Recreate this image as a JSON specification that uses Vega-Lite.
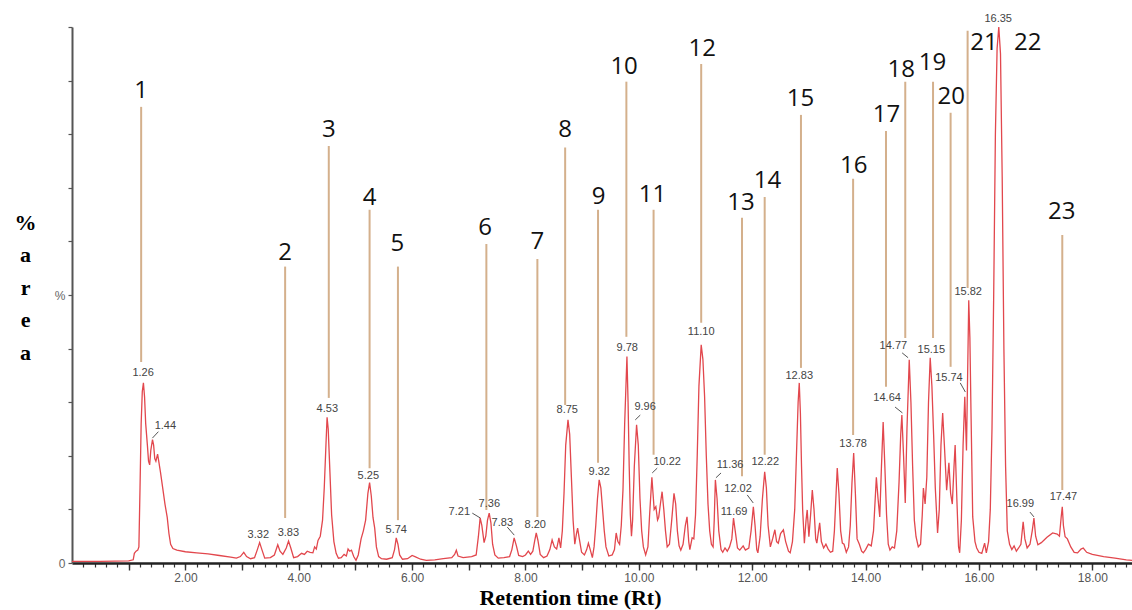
{
  "$schema": "https://vega.github.io/schema/vega-lite/v6.json",
  "width": 1060,
  "height": 536,
  "autosize": {"type": "none"},
  "padding": {"left": 72, "top": 27, "right": 0, "bottom": 47},
  "background": "white",
  "config": {"view": {"stroke": null}},
  "resolve": {"axis": {"x": "independent"}},
  "datasets": {
    "trace": [
      {"t":0.00,"v":0.3},{"t":0.5,"v":0.3},{"t":1.00,"v":0.4},{"t":1.08,"v":0.6},{"t":1.10,"v":1.8},{"t":1.13,"v":2.2},{"t":1.16,"v":2.4},{"t":1.18,"v":3.0},{"t":1.20,"v":14},{"t":1.22,"v":26},{"t":1.24,"v":32},{"t":1.26,"v":33.6},{"t":1.28,"v":31},{"t":1.30,"v":26},{"t":1.33,"v":22},{"t":1.35,"v":19},{"t":1.37,"v":18.3},{"t":1.39,"v":21},{"t":1.42,"v":23},{"t":1.44,"v":22},{"t":1.46,"v":19.5},{"t":1.48,"v":19},{"t":1.51,"v":20.3},{"t":1.53,"v":19},{"t":1.56,"v":17},{"t":1.60,"v":14},{"t":1.64,"v":11},{"t":1.68,"v":8.5},{"t":1.71,"v":5.5},{"t":1.74,"v":3.5},{"t":1.78,"v":2.7},{"t":1.85,"v":2.4},{"t":2.0,"v":2.1},{"t":2.2,"v":1.9},{"t":2.4,"v":1.7},{"t":2.6,"v":1.4},{"t":2.8,"v":1.1},{"t":2.9,"v":0.9},{"t":2.97,"v":1.2},{"t":3.03,"v":2.0},{"t":3.08,"v":1.2},{"t":3.15,"v":0.8},{"t":3.22,"v":1.0},{"t":3.27,"v":2.5},{"t":3.31,"v":3.8},{"t":3.35,"v":2.5},{"t":3.40,"v":0.9},{"t":3.50,"v":1.0},{"t":3.57,"v":1.5},{"t":3.63,"v":3.4},{"t":3.67,"v":2.2},{"t":3.72,"v":1.6},{"t":3.78,"v":2.8},{"t":3.82,"v":4.1},{"t":3.86,"v":2.8},{"t":3.91,"v":1.0},{"t":3.98,"v":1.2},{"t":4.05,"v":1.8},{"t":4.10,"v":1.6},{"t":4.15,"v":2.2},{"t":4.20,"v":2.0},{"t":4.25,"v":1.9},{"t":4.28,"v":3.0},{"t":4.31,"v":2.6},{"t":4.34,"v":4.2},{"t":4.38,"v":5.0},{"t":4.42,"v":8},{"t":4.45,"v":14},{"t":4.48,"v":22},{"t":4.50,"v":27.2},{"t":4.52,"v":25},{"t":4.55,"v":17},{"t":4.58,"v":9},{"t":4.62,"v":4},{"t":4.66,"v":1.8},{"t":4.70,"v":0.9},{"t":4.75,"v":1.0},{"t":4.80,"v":1.6},{"t":4.84,"v":1.3},{"t":4.87,"v":2.6},{"t":4.90,"v":2.2},{"t":4.93,"v":2.4},{"t":4.97,"v":1.2},{"t":5.01,"v":0.5},{"t":5.05,"v":1.5},{"t":5.10,"v":4.5},{"t":5.14,"v":6},{"t":5.18,"v":8},{"t":5.22,"v":13},{"t":5.25,"v":15},{"t":5.28,"v":12.5},{"t":5.31,"v":8.5},{"t":5.34,"v":6.5},{"t":5.37,"v":3},{"t":5.41,"v":1.2},{"t":5.46,"v":0.8},{"t":5.55,"v":0.7},{"t":5.65,"v":1.0},{"t":5.69,"v":2.5},{"t":5.72,"v":4.7},{"t":5.75,"v":3.5},{"t":5.78,"v":1.5},{"t":5.83,"v":0.7},{"t":5.92,"v":0.8},{"t":6.00,"v":1.4},{"t":6.05,"v":1.2},{"t":6.15,"v":0.7},{"t":6.25,"v":0.5},{"t":6.40,"v":0.6},{"t":6.55,"v":0.8},{"t":6.70,"v":1.0},{"t":6.75,"v":1.6},{"t":6.78,"v":2.4},{"t":6.81,"v":1.3},{"t":6.90,"v":1.0},{"t":7.05,"v":1.2},{"t":7.13,"v":1.5},{"t":7.17,"v":5},{"t":7.20,"v":8.4},{"t":7.23,"v":7},{"t":7.27,"v":3.8},{"t":7.30,"v":5},{"t":7.33,"v":8},{"t":7.36,"v":9.3},{"t":7.39,"v":7.5},{"t":7.42,"v":3.5},{"t":7.46,"v":1.5},{"t":7.52,"v":0.9},{"t":7.62,"v":1.0},{"t":7.72,"v":1.2},{"t":7.76,"v":2.5},{"t":7.80,"v":4.7},{"t":7.84,"v":3.2},{"t":7.88,"v":1.4},{"t":7.95,"v":1.2},{"t":8.00,"v":1.5},{"t":8.05,"v":2.2},{"t":8.09,"v":1.6},{"t":8.13,"v":2.2},{"t":8.16,"v":4},{"t":8.19,"v":5.6},{"t":8.22,"v":4.2},{"t":8.26,"v":1.6},{"t":8.32,"v":1.0},{"t":8.38,"v":1.3},{"t":8.43,"v":2.5},{"t":8.47,"v":4.3},{"t":8.51,"v":3.0},{"t":8.55,"v":2.6},{"t":8.59,"v":4.7},{"t":8.62,"v":2.8},{"t":8.65,"v":6},{"t":8.68,"v":13},{"t":8.71,"v":22},{"t":8.75,"v":26.7},{"t":8.78,"v":24},{"t":8.81,"v":16},{"t":8.84,"v":8},{"t":8.87,"v":3.5},{"t":8.90,"v":5.5},{"t":8.92,"v":6.5},{"t":8.95,"v":4.5},{"t":8.99,"v":2},{"t":9.04,"v":1.5},{"t":9.08,"v":2.5},{"t":9.11,"v":3.7},{"t":9.14,"v":2.6},{"t":9.18,"v":1.0},{"t":9.21,"v":3},{"t":9.24,"v":7},{"t":9.27,"v":12},{"t":9.30,"v":15.5},{"t":9.33,"v":14},{"t":9.36,"v":10},{"t":9.39,"v":6},{"t":9.42,"v":3},{"t":9.47,"v":1.3},{"t":9.53,"v":1.5},{"t":9.57,"v":2.5},{"t":9.60,"v":5.6},{"t":9.63,"v":4.0},{"t":9.66,"v":3.5},{"t":9.69,"v":7},{"t":9.72,"v":13.6},{"t":9.75,"v":26},{"t":9.79,"v":38.5},{"t":9.81,"v":30},{"t":9.83,"v":18},{"t":9.85,"v":9},{"t":9.87,"v":5},{"t":9.89,"v":8},{"t":9.92,"v":18},{"t":9.96,"v":25.8},{"t":9.99,"v":22},{"t":10.02,"v":12},{"t":10.05,"v":6},{"t":10.08,"v":3},{"t":10.12,"v":1.5},{"t":10.16,"v":3},{"t":10.19,"v":9},{"t":10.23,"v":16},{"t":10.25,"v":13},{"t":10.27,"v":10},{"t":10.30,"v":10.5},{"t":10.33,"v":8},{"t":10.35,"v":8.5},{"t":10.38,"v":11},{"t":10.41,"v":13.3},{"t":10.44,"v":10},{"t":10.47,"v":6},{"t":10.50,"v":3},{"t":10.54,"v":3.5},{"t":10.58,"v":8},{"t":10.62,"v":13},{"t":10.65,"v":11},{"t":10.68,"v":6},{"t":10.71,"v":3.2},{"t":10.74,"v":2.4},{"t":10.78,"v":3.5},{"t":10.82,"v":7},{"t":10.85,"v":8.6},{"t":10.88,"v":4},{"t":10.90,"v":2.5},{"t":10.94,"v":4.7},{"t":10.97,"v":4.5},{"t":11.00,"v":9},{"t":11.03,"v":20},{"t":11.06,"v":33},{"t":11.10,"v":40.7},{"t":11.13,"v":38},{"t":11.16,"v":31},{"t":11.19,"v":20},{"t":11.22,"v":11},{"t":11.25,"v":6},{"t":11.28,"v":3.5},{"t":11.31,"v":3},{"t":11.33,"v":8},{"t":11.35,"v":15.5},{"t":11.38,"v":12},{"t":11.41,"v":6},{"t":11.45,"v":2.5},{"t":11.48,"v":2.0},{"t":11.52,"v":2.8},{"t":11.56,"v":2.2},{"t":11.60,"v":3.0},{"t":11.64,"v":4.5},{"t":11.67,"v":8.4},{"t":11.70,"v":6},{"t":11.74,"v":2.8},{"t":11.78,"v":2.4},{"t":11.84,"v":3.2},{"t":11.88,"v":2.4},{"t":11.94,"v":2.8},{"t":11.98,"v":6},{"t":12.02,"v":10.5},{"t":12.05,"v":7},{"t":12.08,"v":2.5},{"t":12.10,"v":1.9},{"t":12.14,"v":5},{"t":12.18,"v":12},{"t":12.22,"v":17},{"t":12.25,"v":14},{"t":12.28,"v":7},{"t":12.32,"v":3},{"t":12.36,"v":4.5},{"t":12.40,"v":6.2},{"t":12.43,"v":4},{"t":12.46,"v":3.7},{"t":12.50,"v":5.5},{"t":12.55,"v":6.2},{"t":12.59,"v":4},{"t":12.64,"v":2.2},{"t":12.67,"v":1.9},{"t":12.71,"v":4},{"t":12.75,"v":10},{"t":12.78,"v":20},{"t":12.81,"v":30},{"t":12.83,"v":33.6},{"t":12.85,"v":28},{"t":12.87,"v":18},{"t":12.89,"v":9.9},{"t":12.92,"v":3.7},{"t":12.95,"v":8},{"t":12.97,"v":9.9},{"t":13.00,"v":4.9},{"t":13.03,"v":9},{"t":13.06,"v":13.6},{"t":13.09,"v":10},{"t":13.12,"v":4.5},{"t":13.14,"v":3.7},{"t":13.17,"v":6},{"t":13.19,"v":7.5},{"t":13.22,"v":4},{"t":13.26,"v":2.8},{"t":13.30,"v":3.5},{"t":13.34,"v":2.6},{"t":13.38,"v":2.0},{"t":13.42,"v":2.2},{"t":13.45,"v":6},{"t":13.48,"v":13},{"t":13.50,"v":17.7},{"t":13.53,"v":13},{"t":13.56,"v":6},{"t":13.59,"v":3.7},{"t":13.62,"v":3.5},{"t":13.66,"v":2.0},{"t":13.70,"v":3.0},{"t":13.73,"v":7},{"t":13.76,"v":15},{"t":13.79,"v":20.5},{"t":13.82,"v":13},{"t":13.85,"v":4.5},{"t":13.89,"v":3.5},{"t":13.93,"v":2.2},{"t":13.96,"v":1.9},{"t":14.00,"v":2.5},{"t":14.05,"v":3.5},{"t":14.10,"v":3.2},{"t":14.14,"v":6},{"t":14.17,"v":12},{"t":14.19,"v":16},{"t":14.22,"v":12},{"t":14.25,"v":8.6},{"t":14.28,"v":18},{"t":14.31,"v":26.3},{"t":14.34,"v":18},{"t":14.37,"v":9},{"t":14.40,"v":3.5},{"t":14.43,"v":2.4},{"t":14.47,"v":3},{"t":14.51,"v":2.8},{"t":14.55,"v":6},{"t":14.59,"v":15},{"t":14.62,"v":24},{"t":14.64,"v":27.6},{"t":14.67,"v":20},{"t":14.70,"v":11.2},{"t":14.73,"v":25},{"t":14.77,"v":37.9},{"t":14.80,"v":30},{"t":14.83,"v":18},{"t":14.86,"v":8},{"t":14.89,"v":4.9},{"t":14.93,"v":3},{"t":14.97,"v":3.5},{"t":15.00,"v":9},{"t":15.02,"v":14},{"t":15.05,"v":11},{"t":15.08,"v":16},{"t":15.11,"v":30},{"t":15.14,"v":38.3},{"t":15.17,"v":33},{"t":15.20,"v":24},{"t":15.23,"v":14},{"t":15.27,"v":5.6},{"t":15.30,"v":10},{"t":15.33,"v":22},{"t":15.36,"v":28},{"t":15.39,"v":22},{"t":15.43,"v":13.6},{"t":15.47,"v":18.7},{"t":15.50,"v":13},{"t":15.53,"v":11},{"t":15.56,"v":18},{"t":15.58,"v":22},{"t":15.61,"v":12},{"t":15.64,"v":3},{"t":15.66,"v":1.9},{"t":15.69,"v":8},{"t":15.72,"v":22},{"t":15.75,"v":31},{"t":15.78,"v":21},{"t":15.80,"v":35},{"t":15.82,"v":49},{"t":15.84,"v":42},{"t":15.86,"v":28},{"t":15.89,"v":8.6},{"t":15.93,"v":4},{"t":15.96,"v":2.8},{"t":16.00,"v":2.0},{"t":16.05,"v":1.8},{"t":16.10,"v":3.7},{"t":16.13,"v":1.9},{"t":16.17,"v":4},{"t":16.20,"v":10},{"t":16.23,"v":25},{"t":16.26,"v":50},{"t":16.29,"v":80},{"t":16.32,"v":96},{"t":16.35,"v":100},{"t":16.38,"v":95},{"t":16.41,"v":72},{"t":16.44,"v":40},{"t":16.47,"v":18},{"t":16.50,"v":6},{"t":16.54,"v":3.5},{"t":16.58,"v":2.5},{"t":16.62,"v":3.2},{"t":16.66,"v":2.2},{"t":16.70,"v":2.8},{"t":16.74,"v":3.5},{"t":16.78,"v":7.7},{"t":16.81,"v":4.5},{"t":16.85,"v":2.8},{"t":16.90,"v":3.5},{"t":16.94,"v":6},{"t":16.97,"v":8.4},{"t":17.00,"v":5},{"t":17.04,"v":3.4},{"t":17.10,"v":3.8},{"t":17.20,"v":4.8},{"t":17.30,"v":5.6},{"t":17.38,"v":5.4},{"t":17.42,"v":5.0},{"t":17.45,"v":8.5},{"t":17.47,"v":10.5},{"t":17.49,"v":7},{"t":17.52,"v":4.9},{"t":17.56,"v":4.5},{"t":17.62,"v":3},{"t":17.68,"v":2.0},{"t":17.74,"v":1.9},{"t":17.80,"v":2.6},{"t":17.84,"v":2.8},{"t":17.90,"v":2.0},{"t":18.00,"v":1.6},{"t":18.20,"v":1.2},{"t":18.40,"v":0.9},{"t":18.60,"v":0.6},{"t":18.70,"v":0.5}
    ],
    "lines": [
      {"n":"1","t":1.22,"top":85.1,"bottom":37.5},
      {"n":"2","t":3.76,"top":55.3,"bottom":8.4},
      {"n":"3","t":4.53,"top":77.8,"bottom":30.8},
      {"n":"4","t":5.25,"top":65.9,"bottom":17.7},
      {"n":"5","t":5.75,"top":55.3,"bottom":8.0},
      {"n":"6","t":7.31,"top":59.5,"bottom":9.9},
      {"n":"7","t":8.21,"top":56.7,"bottom":8.6},
      {"n":"8","t":8.70,"top":77.5,"bottom":29.5},
      {"n":"9","t":9.28,"top":65.9,"bottom":18.7},
      {"n":"10","t":9.78,"top":89.8,"bottom":42.2},
      {"n":"11","t":10.26,"top":65.9,"bottom":20.2},
      {"n":"12","t":11.10,"top":93.1,"bottom":44.8},
      {"n":"13","t":11.82,"top":64.4,"bottom":16.2},
      {"n":"14","t":12.22,"top":68.3,"bottom":20.2},
      {"n":"15","t":12.86,"top":83.6,"bottom":36.4},
      {"n":"16","t":13.78,"top":71.7,"bottom":23.9},
      {"n":"17","t":14.36,"top":80.6,"bottom":32.9},
      {"n":"18","t":14.70,"top":89.8,"bottom":42.0},
      {"n":"19","t":15.19,"top":89.8,"bottom":42.0},
      {"n":"20","t":15.50,"top":84.0,"bottom":36.6},
      {"n":"21","t":15.80,"top":99.3,"bottom":51.3},
      {"n":"23","t":17.47,"top":61.2,"bottom":13.6}
    ],
    "numbers": [
      {"n":"1","t":1.22,"y":88.0},{"n":"2","t":3.76,"y":57.9},{"n":"3","t":4.53,"y":80.7},{"n":"4","t":5.25,"y":68.1},
      {"n":"5","t":5.74,"y":59.5},{"n":"6","t":7.29,"y":62.5},{"n":"7","t":8.21,"y":59.9},{"n":"8","t":8.70,"y":80.8},
      {"n":"9","t":9.29,"y":68.3},{"n":"10","t":9.74,"y":92.6},{"n":"11","t":10.24,"y":68.7},{"n":"12","t":11.12,"y":95.9},
      {"n":"13","t":11.80,"y":67.2},{"n":"14","t":12.27,"y":71.3},{"n":"15","t":12.85,"y":86.6},{"n":"16","t":13.79,"y":74.1},
      {"n":"17","t":14.37,"y":83.6},{"n":"18","t":14.63,"y":92.0},{"n":"19","t":15.18,"y":93.2},{"n":"20","t":15.51,"y":87.0},
      {"n":"21","t":16.09,"y":97.1},{"n":"22","t":16.86,"y":97.1},{"n":"23","t":17.46,"y":65.5}
    ],
    "peaks": [
      {"lab":"1.26","t":1.254,"v":35.5},{"lab":"1.44","t":1.647,"v":25.6},{"lab":"3.32","t":3.287,"v":5.2},{"lab":"3.83","t":3.817,"v":5.6},
      {"lab":"4.53","t":4.504,"v":28.7},{"lab":"5.25","t":5.227,"v":16.2},{"lab":"5.74","t":5.72,"v":6.2},{"lab":"7.21","t":6.833,"v":9.5},
      {"lab":"7.36","t":7.362,"v":11.0},{"lab":"7.83","t":7.591,"v":7.5},{"lab":"8.20","t":8.173,"v":7.1},{"lab":"8.75","t":8.737,"v":28.6},
      {"lab":"9.32","t":9.302,"v":17.0},{"lab":"9.78","t":9.795,"v":40.1},{"lab":"9.96","t":10.11,"v":29.1},{"lab":"10.22","t":10.50,"v":18.9},
      {"lab":"11.10","t":11.10,"v":43.1},{"lab":"11.36","t":11.61,"v":18.3},{"lab":"12.02","t":11.75,"v":13.8},{"lab":"11.69","t":11.68,"v":9.5},
      {"lab":"12.22","t":12.23,"v":18.9},{"lab":"12.83","t":12.83,"v":34.9},{"lab":"13.78","t":13.78,"v":22.2},{"lab":"14.64","t":14.38,"v":30.8},
      {"lab":"14.77","t":14.49,"v":40.5},{"lab":"15.15","t":15.16,"v":39.8},{"lab":"15.74","t":15.47,"v":34.5},{"lab":"15.82","t":15.81,"v":50.6},
      {"lab":"16.35","t":16.34,"v":101.4},{"lab":"16.99","t":16.73,"v":11.0},{"lab":"17.47","t":17.49,"v":12.3}
    ],
    "leaders": [
      {"t":1.524,"v":24.5,"t2":1.418,"v2":23.3},{"t":7.062,"v":9.3,"t2":7.203,"v2":8.4},{"t":7.679,"v":6.7,"t2":7.802,"v2":5.2},
      {"t":10.025,"v":27.6,"t2":9.937,"v2":26.7},{"t":10.324,"v":17.7,"t2":10.236,"v2":16.8},{"t":11.45,"v":16.8,"t2":11.36,"v2":15.9},
      {"t":11.912,"v":12.7,"t2":12.018,"v2":11.2},{"t":14.52,"v":29.1,"t2":14.65,"v2":28.0},{"t":14.645,"v":39.2,"t2":14.75,"v2":38.3},
      {"t":15.67,"v":33.6,"t2":15.76,"v2":31.9},{"t":16.90,"v":9.5,"t2":16.97,"v2":8.6}
    ]
  },
  "layer": [
    {
      "data": {"name": "lines"},
      "mark": {"type": "rule", "color": "#d4b08c", "strokeWidth": 2},
      "encoding": {
        "x": {
          "field": "t", "type": "quantitative", "scale": {"domain": [0, 18.7], "nice": false, "zero": false},
          "axis": {
            "orient": "bottom",
            "values": [1,2,3,4,5,6,7,8,9,10,11,12,13,14,15,16,17,18],
            "labelExpr": "(datum.value % 2 == 0) ? format(datum.value, '.2f') : ''",
            "labelOverlap": false, "labelFlush": false, "labelBound": false,
            "labelFont": "Liberation Sans", "labelFontSize": 12, "labelColor": "#555", "labelPadding": 2,
            "tickSize": 7, "tickColor": "#333", "tickWidth": 1.4,
            "domain": false, "grid": false,
            "title": "Retention time (Rt)", "titleFont": "Liberation Serif", "titleFontSize": 22, "titleFontWeight": "bold", "titleColor": "#000",
            "titleX": 498, "titleY": 41, "titleBaseline": "alphabetic", "titleAlign": "center"
          }
        },
        "y": {"field": "bottom", "type": "quantitative", "scale": {"domain": [0, 100], "nice": false}},
        "y2": {"field": "top"}
      }
    },
    {
      "data": {"name": "trace"},
      "mark": {"type": "line", "color": "#e2474d", "strokeWidth": 1.3, "interpolate": "linear"},
      "encoding": {
        "x": {
          "field": "t", "type": "quantitative",
          "axis": {
            "orient": "bottom",
            "values": [0.2,0.4,0.6,0.8,1,1.2,1.4,1.6,1.8,2,2.2,2.4,2.6,2.8,3,3.2,3.4,3.6,3.8,4,4.2,4.4,4.6,4.8,5,5.2,5.4,5.6,5.8,6,6.2,6.4,6.6,6.8,7,7.2,7.4,7.6,7.8,8,8.2,8.4,8.6,8.8,9,9.2,9.4,9.6,9.8,10,10.2,10.4,10.6,10.8,11,11.2,11.4,11.6,11.8,12,12.2,12.4,12.6,12.8,13,13.2,13.4,13.6,13.8,14,14.2,14.4,14.6,14.8,15,15.2,15.4,15.6,15.8,16,16.2,16.4,16.6,16.8,17,17.2,17.4,17.6,17.8,18,18.2,18.4,18.6],
            "labels": false,
            "tickSize": 4, "tickColor": "#333", "tickWidth": 1.2,
            "domainColor": "#222", "domainWidth": 2.5, "grid": false,
            "title": null
          }
        },
        "y": {
          "field": "v", "type": "quantitative",
          "axis": {
            "values": [0,10,20,30,40,50,60,70,80,90,100],
            "labelExpr": "datum.value == 0 ? '0' : (datum.value == 50 ? '%' : '')",
            "labelOverlap": false, "labelFlush": false,
            "labelFont": "Liberation Sans", "labelFontSize": 12, "labelColor": "#666", "labelPadding": 3,
            "tickSize": 4, "tickColor": "#555", "tickWidth": 1.2,
            "domainColor": "#555", "domainWidth": 2, "grid": false,
            "title": ["%", "a", "r", "e", "a"], "titleAngle": 0, "titleFont": "Liberation Serif", "titleFontSize": 22, "titleFontWeight": "bold", "titleColor": "#000",
            "titleX": -47, "titleY": 195, "titleBaseline": "middle", "titleAlign": "center", "titleLineHeight": 32.5
          }
        }
      }
    },
    {
      "data": {"name": "numbers"},
      "mark": {"type": "text", "font": "Open Sans", "fontSize": 24, "color": "#111", "baseline": "middle", "align": "center"},
      "encoding": {
        "x": {"field": "t", "type": "quantitative", "axis": null},
        "y": {"field": "y", "type": "quantitative"},
        "text": {"field": "n"}
      }
    },
    {
      "data": {"name": "leaders"},
      "mark": {"type": "rule", "color": "#555", "strokeWidth": 1},
      "encoding": {
        "x": {"field": "t", "type": "quantitative", "axis": null},
        "y": {"field": "v", "type": "quantitative"},
        "x2": {"field": "t2"},
        "y2": {"field": "v2"}
      }
    },
    {
      "data": {"name": "peaks"},
      "mark": {"type": "text", "font": "Liberation Sans", "fontSize": 11, "color": "#444", "baseline": "middle", "align": "center"},
      "encoding": {
        "x": {"field": "t", "type": "quantitative", "axis": null},
        "y": {"field": "v", "type": "quantitative"},
        "text": {"field": "lab"}
      }
    }
  ]
}
